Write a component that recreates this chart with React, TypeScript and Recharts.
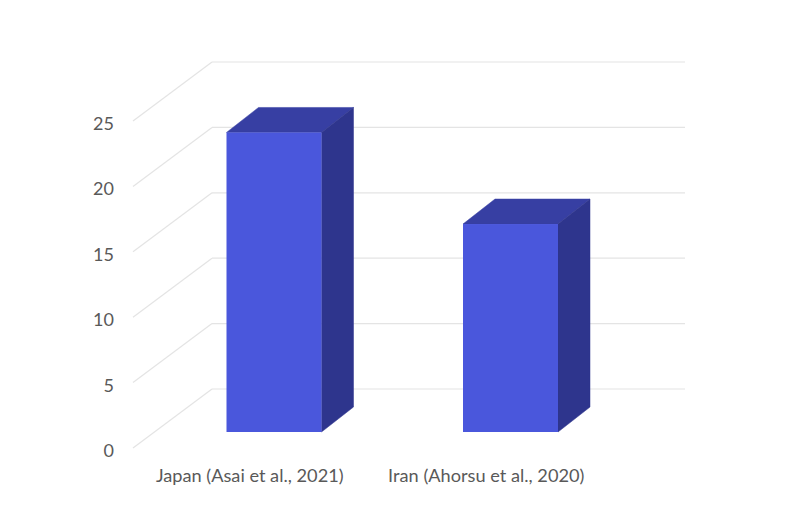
import { BarChart, Bar, XAxis, YAxis, CartesianGrid } from 'recharts';

const categories = ['Japan (Asai et al., 2021)', 'Iran (Ahorsu et al., 2020)'];
const values = [22.9, 15.9];
const yTicks = [0, 5, 10, 15, 20, 25];

const rows = categories.map((name, i) => ({ name, value: values[i] }));

const FONT = 'Lato, "Open Sans", sans-serif';
const TEXT = '#595959';

// fake 3D: the back wall is the real plot area, the floor runs down-left from it
const FLOOR_X = 79;
const FLOOR_Y = 59;

function GridLine(props: any) {
  const { x1, x2, y1, y2, index } = props;
  return (
    <g key={`line-${index}`}>
      <line x1={x1} y1={y1} x2={x2} y2={y2} stroke="#e4e4e4" strokeWidth={1.2} />
      <line x1={x1} y1={y1} x2={x1 - FLOOR_X} y2={y1 + FLOOR_Y} stroke="#e4e4e4" strokeWidth={1.2} />
    </g>
  );
}

function YTick({ y, payload }: any) {
  return (
    <text x={114} y={y + FLOOR_Y + 9} textAnchor="end" fontFamily={FONT} fontSize={18} fill={TEXT}>
      {payload.value}
    </text>
  );
}

function XTick({ x, payload }: any) {
  return (
    <text x={x - FLOOR_X - 1.5} y={482} textAnchor="middle" fontFamily={FONT} fontSize={18.2} fill={TEXT}>
      {payload.value}
    </text>
  );
}

function Box3D({ x, y, width, height }: any) {
  const fx = x - 56.5;
  const fy = y + 43;
  const dx = 32;
  const dy = 25;
  return (
    <g>
      <polygon
        points={`${fx},${fy} ${fx + dx},${fy - dy} ${fx + width + dx},${fy - dy} ${fx + width},${fy}`}
        fill="#373fa3"
        stroke="#373fa3"
        strokeWidth={0.5}
      />
      <polygon
        points={`${fx + width},${fy} ${fx + width + dx},${fy - dy} ${fx + width + dx},${fy + height - dy} ${fx + width},${fy + height}`}
        fill="#2e358d"
        stroke="#2e358d"
        strokeWidth={0.5}
      />
      <rect x={fx} y={fy} width={width} height={height} fill="#4a57dc" />
    </g>
  );
}

export default function App() {
  return (
    <div style={{ position: 'absolute', left: 0, top: 0, width: 800, height: 530, background: '#fff' }}>
      <BarChart
        width={800}
        height={530}
        data={rows}
        margin={{ top: 62, right: 115, bottom: 111, left: 152 }}
      >
        <CartesianGrid vertical={false} horizontal={(p: any) => <GridLine {...p} />} />
        <XAxis dataKey="name" height={30} axisLine={false} tickLine={false} tick={<XTick />} interval={0} />
        <YAxis
          width={60}
          domain={[0, 25]}
          ticks={yTicks}
          axisLine={false}
          tickLine={false}
          tick={<YTick />}
        />
        <Bar dataKey="value" barSize={95} shape={<Box3D />} isAnimationActive={false} />
      </BarChart>
    </div>
  );
}
